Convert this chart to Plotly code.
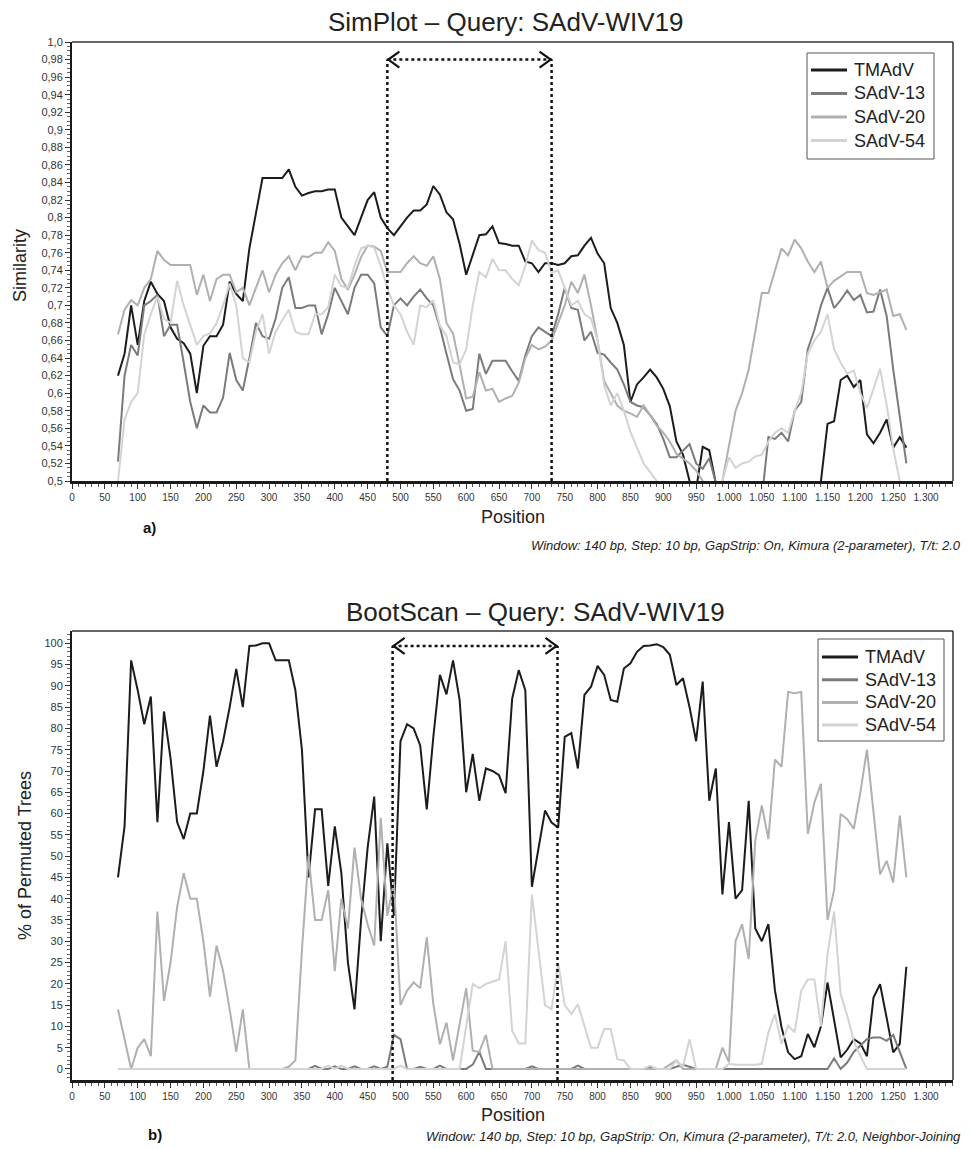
import plotly.graph_objects as go

# ---------------- data ----------------
positions = list(range(70, 1271, 10))  # 121 window mid-points

series_names = ["TMAdV", "SAdV-13", "SAdV-20", "SAdV-54"]
series_colors = ["#1c1c1c", "#7b7b7b", "#b0b0b0", "#d3d3d3"]

# SimPlot similarity values
sim_tmadv = [
    0.620, 0.645, 0.700, 0.655, 0.705, 0.727, 0.713, 0.705, 0.675, 0.662,
    0.657, 0.645, 0.600, 0.654, 0.665, 0.665, 0.678, 0.727, 0.713, 0.705,
    0.765, 0.805, 0.845, 0.845, 0.845, 0.845, 0.855, 0.835, 0.825, 0.828,
    0.830, 0.830, 0.832, 0.832, 0.800, 0.790, 0.780, 0.800, 0.820, 0.829,
    0.800, 0.788, 0.780, 0.790, 0.800, 0.808, 0.808, 0.815, 0.836, 0.826,
    0.806, 0.798, 0.770, 0.735, 0.757, 0.780, 0.781, 0.790, 0.771, 0.770,
    0.768, 0.768, 0.750, 0.748, 0.738, 0.748, 0.748, 0.746, 0.748, 0.756,
    0.757, 0.768, 0.777, 0.759, 0.748, 0.697, 0.680, 0.655, 0.590, 0.610,
    0.618, 0.627, 0.618, 0.605, 0.585, 0.545, 0.530, 0.500, 0.490, 0.539,
    0.535, 0.500, 0.460, 0.460, 0.460, 0.460, 0.460, 0.460, 0.460, 0.460,
    0.460, 0.460, 0.460, 0.460, 0.460, 0.460, 0.460, 0.500, 0.565, 0.568,
    0.615, 0.620, 0.607, 0.615, 0.553, 0.543, 0.555, 0.570, 0.538, 0.550,
    0.538,
]
sim_s13 = [
    0.522, 0.620, 0.655, 0.643, 0.700, 0.705, 0.712, 0.665, 0.678, 0.678,
    0.635, 0.590, 0.560, 0.586, 0.578, 0.578, 0.595, 0.646, 0.615, 0.603,
    0.640, 0.680, 0.665, 0.662, 0.685, 0.720, 0.732, 0.697, 0.697, 0.700,
    0.700, 0.667, 0.690, 0.720, 0.705, 0.690, 0.720, 0.735, 0.735, 0.725,
    0.675, 0.665, 0.700, 0.708, 0.700, 0.710, 0.718, 0.708, 0.700, 0.675,
    0.645, 0.616, 0.603, 0.580, 0.582, 0.645, 0.622, 0.637, 0.637, 0.637,
    0.625, 0.614, 0.643, 0.665, 0.675, 0.670, 0.665, 0.690, 0.720, 0.697,
    0.695, 0.660, 0.670, 0.646, 0.644, 0.635, 0.627, 0.610, 0.590, 0.586,
    0.584, 0.575, 0.565, 0.548, 0.527, 0.527, 0.535, 0.542, 0.520, 0.514,
    0.526, 0.500, 0.470, 0.470, 0.470, 0.470, 0.470, 0.470, 0.480, 0.550,
    0.548, 0.555, 0.545, 0.580, 0.590, 0.650, 0.672, 0.700, 0.720, 0.697,
    0.706, 0.717, 0.706, 0.712, 0.692, 0.693, 0.718, 0.688, 0.627, 0.575,
    0.520,
]
sim_s20 = [
    0.667, 0.695, 0.706, 0.700, 0.720, 0.730, 0.762, 0.752, 0.746, 0.746,
    0.746, 0.746, 0.712, 0.735, 0.705, 0.730, 0.735, 0.735, 0.715, 0.720,
    0.700, 0.720, 0.740, 0.715, 0.735, 0.748, 0.756, 0.740, 0.756, 0.755,
    0.760, 0.760, 0.772, 0.762, 0.730, 0.718, 0.735, 0.755, 0.768, 0.767,
    0.762, 0.738, 0.738, 0.738, 0.748, 0.756, 0.748, 0.745, 0.756, 0.730,
    0.680, 0.668, 0.632, 0.594, 0.596, 0.624, 0.603, 0.605, 0.590, 0.594,
    0.597, 0.612, 0.640, 0.655, 0.650, 0.653, 0.660, 0.680, 0.700, 0.727,
    0.714, 0.735, 0.700, 0.660, 0.614, 0.600, 0.586, 0.580, 0.577, 0.573,
    0.586, 0.575, 0.563, 0.555, 0.545, 0.531, 0.525, 0.520, 0.512, 0.500,
    0.480, 0.480, 0.500, 0.540, 0.580, 0.600, 0.627, 0.670, 0.714, 0.714,
    0.740, 0.765, 0.757, 0.775, 0.765, 0.750, 0.738, 0.750, 0.720, 0.728,
    0.733, 0.738, 0.738, 0.738, 0.714, 0.712, 0.715, 0.718, 0.688, 0.690,
    0.672,
]
sim_s54 = [
    0.500, 0.570, 0.590, 0.600, 0.667, 0.690, 0.710, 0.685, 0.680, 0.728,
    0.700, 0.678, 0.655, 0.665, 0.668, 0.680, 0.700, 0.725, 0.700, 0.640,
    0.635, 0.670, 0.690, 0.645, 0.670, 0.683, 0.695, 0.670, 0.667, 0.667,
    0.690, 0.690, 0.698, 0.735, 0.722, 0.720, 0.745, 0.765, 0.768, 0.766,
    0.745, 0.720, 0.700, 0.690, 0.670, 0.655, 0.700, 0.698, 0.706, 0.677,
    0.665, 0.635, 0.633, 0.650, 0.700, 0.738, 0.732, 0.753, 0.740, 0.740,
    0.730, 0.723, 0.745, 0.774, 0.763, 0.760, 0.737, 0.740, 0.720, 0.700,
    0.705, 0.690, 0.685, 0.660, 0.609, 0.586, 0.600, 0.580, 0.556, 0.537,
    0.520, 0.510, 0.500, 0.480, 0.470, 0.470, 0.470, 0.470, 0.470, 0.470,
    0.470, 0.480, 0.500, 0.527, 0.515, 0.520, 0.522, 0.528, 0.530, 0.545,
    0.555, 0.560, 0.555, 0.580, 0.600, 0.645, 0.660, 0.670, 0.690, 0.650,
    0.635, 0.622, 0.626, 0.600, 0.583, 0.605, 0.628, 0.587, 0.537, 0.500,
    0.470,
]

# BootScan % of permuted trees
boot_tmadv = [
    45, 57, 96, 89, 81, 87.5, 58, 84, 73, 58,
    54, 60, 60, 70, 83, 71, 77, 85, 94, 85,
    99.4, 99.5, 100, 100, 96, 96, 96, 89, 75, 45,
    61, 61, 43, 57, 46, 25, 14, 35, 52, 64,
    30, 53, 36, 77, 81, 80, 76, 61, 78, 92.6,
    88, 96, 86.7, 65, 74, 63, 70.6, 70, 69, 64.8,
    87, 93.7, 89, 42.8, 52, 60.7, 57.9, 56.7, 78, 78.9,
    70.6, 87.9, 89.8, 94.7, 92.6, 86.7, 86.3, 94.1, 95.3, 98,
    99.4, 99.5, 99.8, 99.1, 97.3, 90.2, 91.8, 85, 77, 91,
    63, 70.6, 41, 58, 40, 42, 63, 33, 30, 34,
    18.4, 9.8, 3.9, 2.3, 3, 8.2, 5.1, 10, 20.3, 11,
    2.7, 4.5, 7, 6, 3, 16.8, 19.9, 12, 3.9, 5.9,
    24,
]
boot_s13 = [
    0, 0, 0, 0, 0, 0, 0, 0, 0, 0,
    0, 0, 0, 0, 0, 0, 0, 0, 0, 0,
    0, 0, 0, 0, 0, 0, 0, 0, 0, 0,
    0.7, 0, 0, 0.6, 0, 0, 0.6, 0, 0, 0.6,
    0, 0.5, 8, 7, 0, 0, 0.5, 0, 0, 0.8,
    0, 0, 0, 0, 1, 4, 0, 0, 0, 0,
    0, 0, 0, 0.6, 0, 0, 0, 0, 0, 0,
    0.8, 0, 0, 0, 0, 0, 0, 0, 0, 0,
    0, 0.4, 0, 0, 0, 0.5, 1, 0.5, 0, 0,
    0, 0, 0, 0, 0, 0, 0, 0, 0, 0,
    0, 0, 0, 0, 0, 0, 0, 0, 0, 2.5,
    0, 1.5, 4, 5.5, 7, 7.4, 7.4, 6.6, 8, 4,
    0,
]
boot_s20 = [
    14, 7, 0, 5, 7, 3, 37, 16, 25, 38,
    46, 40, 40, 30, 17, 29, 23, 14, 4, 14,
    0, 0, 0, 0, 0, 0, 0.5, 2, 28, 50,
    35, 35, 42, 23, 40, 33, 52, 40, 34, 29,
    59, 36, 44, 15, 18.4, 20.3, 19, 30.9, 15.2, 5.8,
    10.9, 2, 10.5, 19, 4.3, 4, 8, 0, 0, 0,
    0, 0, 0, 0, 0, 0, 0, 0, 0, 0,
    0, 0, 0, 0, 0, 0, 0, 0, 0, 0,
    0, 0, 0, 0, 1, 2, 0, 0, 0, 0,
    0, 0, 5, 1.6, 30, 34, 25.8, 53.6, 61.9, 54,
    72.7, 71, 88.6, 88.3, 88.6, 55.2, 62.6, 67, 35, 42,
    59.9, 58.7, 56.4, 65, 75, 60, 45.7, 48.9, 43.8, 59.5,
    45,
]
boot_s54 = [
    0, 0, 0, 0, 0, 0, 0, 0, 0, 0,
    0, 0, 0, 0, 0, 0, 0, 0, 0, 0,
    0, 0, 0, 0, 0, 0, 0, 0, 0, 0,
    0, 0, 0.8, 0, 0.8, 0, 0, 0, 0, 0,
    0, 0, 0, 0.8, 0, 0, 0, 0, 0, 0,
    0, 0, 0, 10, 20, 19, 20, 20.5, 21, 30,
    9, 6, 6, 41, 28, 15, 14, 25, 15, 12.9,
    15.2, 9.8, 5, 5, 9.4, 9.4, 2.3, 2, 0, 0,
    0, 0.8, 0, 0, 0, 2, 0.5, 7, 0, 0,
    0, 0, 0, 1.2, 1, 1, 1, 1, 1.2, 8.6,
    12.9, 5.9, 10.2, 8.6, 18.4, 21, 21, 10, 27, 37,
    17.6, 12.5, 6.6, 3, 0, 0, 0, 0, 0, 0,
    0,
]

# recombination region marks (bp) and arrow heights
sim_region = (480, 730)
sim_arrow_level = 0.980
boot_region = (488, 739)
boot_arrow_level = 99.4

# axis tick definitions
sim_tickvals = [round(0.5 + 0.02 * i, 2) for i in range(26)]


def sim_label(v):
    if abs(v - 1.0) < 1e-9:
        return "1,0"
    s = f"{v:.2f}".rstrip("0")
    return s.replace(".", ",")


sim_ticktext = [sim_label(v) for v in sim_tickvals]

# ---------------- layout geometry (screen pixels) ----------------
W, H = 971, 1149
OFF = 8                      # page body margin in front of the figure
PLOT_L, PLOT_R = 72, 953      # horizontal extent of both panels (screen px)
TOP_T, TOP_B = 42, 481        # SimPlot panel
BOT_T, BOT_B = 631, 1080      # BootScan panel

M_L = PLOT_L - OFF
M_R = W - (PLOT_R - OFF)
M_T = TOP_T - OFF
M_B = H - (BOT_B - OFF)


def px_x(px):
    return (px - PLOT_L) / (PLOT_R - PLOT_L)


def px_y(py):
    return (BOT_B - py) / (BOT_B - TOP_T)


FONT = "Liberation Sans, Arial, Helvetica, sans-serif"
X_MAX = 1341
SIM_Y = (0.5, 1.0)
BOOT_Y = (-2.6, 102.9)

fig = go.Figure()

sim_data = [sim_tmadv, sim_s13, sim_s20, sim_s54]
boot_data = [boot_tmadv, boot_s13, boot_s20, boot_s54]

for name, color, vals in zip(series_names, series_colors, sim_data):
    fig.add_trace(go.Scatter(
        x=positions, y=vals, mode="lines", name=name,
        line=dict(color=color, width=2), xaxis="x", yaxis="y",
        showlegend=False, hoverinfo="x+y+name"))

for name, color, vals in zip(series_names, series_colors, boot_data):
    fig.add_trace(go.Scatter(
        x=positions, y=vals, mode="lines", name=name,
        line=dict(color=color, width=2), xaxis="x2", yaxis="y2",
        showlegend=False, hoverinfo="x+y+name"))

tick_font = dict(family=FONT, size=10, color="#333")

common_x = dict(
    range=[0, X_MAX], tickmode="linear", tick0=0, dtick=50,
    tickformat=",d", ticks="outside", ticklen=5, tickwidth=1,
    tickcolor="#333", showline=True, linecolor="#1a1a1a", linewidth=3,
    showgrid=False, zeroline=False, tickfont=tick_font, automargin=False,
    minor=dict(ticks="outside", ticklen=3, tickwidth=1, tickcolor="#555",
               tickmode="linear", tick0=0, dtick=10, showgrid=False),
)

fig.update_layout(
    width=W, height=H,
    margin=dict(l=M_L, r=M_R, t=M_T, b=M_B, autoexpand=False),
    paper_bgcolor="white", plot_bgcolor="white",
    separators=",.",
    font=dict(family=FONT, color="#222"),
    showlegend=False,
    xaxis=dict(domain=[0, 1], anchor="y", **common_x),
    xaxis2=dict(domain=[0, 1], anchor="y2", **common_x),
    yaxis=dict(
        domain=[px_y(TOP_B), 1.0], anchor="x", range=list(SIM_Y),
        tickmode="array", tickvals=sim_tickvals, ticktext=sim_ticktext,
        ticks="outside", ticklen=5, tickwidth=1, tickcolor="#333",
        showline=True, linecolor="#1a1a1a", linewidth=2,
        showgrid=False, zeroline=False, automargin=False,
        tickfont=dict(family=FONT, size=11, color="#333"),
        minor=dict(ticks="outside", ticklen=3, tickwidth=1, tickcolor="#666",
                   tickmode="linear", tick0=0.5, dtick=0.005, showgrid=False),
    ),
    yaxis2=dict(
        domain=[0, px_y(BOT_T)], anchor="x2", range=list(BOOT_Y),
        tickmode="linear", tick0=0, dtick=5,
        ticks="outside", ticklen=5, tickwidth=1, tickcolor="#333",
        showline=True, linecolor="#1a1a1a", linewidth=2,
        showgrid=False, zeroline=False, automargin=False,
        tickfont=dict(family=FONT, size=11, color="#333"),
        minor=dict(ticks="outside", ticklen=3, tickwidth=1, tickcolor="#666",
                   tickmode="linear", tick0=0, dtick=1, showgrid=False),
    ),
)

shapes = []
# top / right frame borders of both panels
for xr, yr in (("x domain", "y domain"), ("x2 domain", "y2 domain")):
    shapes.append(dict(type="line", xref=xr, yref=yr, x0=0, x1=1, y0=1, y1=1,
                       line=dict(color="#333", width=1.5), layer="above"))
    shapes.append(dict(type="line", xref=xr, yref=yr, x0=1, x1=1, y0=0, y1=1,
                       line=dict(color="#333", width=1.5), layer="above"))

dot_line = dict(color="#111", width=2.5, dash="dot")


def region_marks(xref, yref, region, level, ybottom):
    out = []
    x0, x1 = region
    for xv in region:
        out.append(dict(type="line", xref=xref, yref=yref, x0=xv, x1=xv,
                        y0=ybottom, y1=level, line=dot_line, layer="above"))
    out.append(dict(type="line", xref=xref, yref=yref, x0=x0, x1=x1,
                    y0=level, y1=level, line=dot_line, layer="above"))
    out.append(dict(type="path", xref=xref, yref=yref, xsizemode="pixel",
                    ysizemode="pixel", xanchor=x0, yanchor=level,
                    path="M 12 8 L 1 0 L 12 -8",
                    line=dict(color="#111", width=2.2), layer="above"))
    out.append(dict(type="path", xref=xref, yref=yref, xsizemode="pixel",
                    ysizemode="pixel", xanchor=x1, yanchor=level,
                    path="M -12 8 L -1 0 L -12 -8",
                    line=dict(color="#111", width=2.2), layer="above"))
    return out


shapes += region_marks("x", "y", sim_region, sim_arrow_level, SIM_Y[0])
shapes += region_marks("x2", "y2", boot_region, boot_arrow_level, BOOT_Y[0])

ann = []

# custom legends (box, line samples, labels) – geometry in screen pixels
legend_specs = [
    dict(l=807, r=934, t=53, b=159, y0=70, step=23.5, s0=811, s1=847, tx=852),
    dict(l=818, r=944, t=639, b=741, y0=657, step=22.7, s0=822, s1=858, tx=863),
]
for spec in legend_specs:
    shapes.append(dict(type="rect", xref="paper", yref="paper",
                       x0=px_x(spec["l"]), x1=px_x(spec["r"]),
                       y0=px_y(spec["b"]), y1=px_y(spec["t"]),
                       fillcolor="white", line=dict(color="#555", width=1),
                       layer="above"))
    for k, (name, color) in enumerate(zip(series_names, series_colors)):
        yc = spec["y0"] + k * spec["step"]
        shapes.append(dict(type="line", xref="paper", yref="paper",
                           x0=px_x(spec["s0"]), x1=px_x(spec["s1"]),
                           y0=px_y(yc), y1=px_y(yc),
                           line=dict(color=color, width=3), layer="above"))
        ann.append(dict(text=name, xref="paper", yref="paper",
                        x=px_x(spec["tx"]), y=px_y(yc),
                        xanchor="left", yanchor="middle", showarrow=False,
                        font=dict(family=FONT, size=18, color="#222")))

fig.update_layout(shapes=shapes)

italic_font = dict(family=FONT, size=13, color="#222", style="italic")

# panel titles
ann.append(dict(text="SimPlot – Query: SAdV-WIV19", xref="paper", yref="paper",
                x=px_x(505), y=px_y(22), xanchor="center", yanchor="middle",
                showarrow=False, font=dict(family=FONT, size=26, color="#222")))
ann.append(dict(text="BootScan – Query: SAdV-WIV19", xref="paper", yref="paper",
                x=px_x(535), y=px_y(612), xanchor="center", yanchor="middle",
                showarrow=False, font=dict(family=FONT, size=26, color="#222")))
# x axis titles
for py in (517, 1115):
    ann.append(dict(text="Position", xref="paper", yref="paper", x=0.5, y=px_y(py),
                    xanchor="center", yanchor="middle", showarrow=False,
                    font=dict(family=FONT, size=18, color="#222")))
# y axis titles
ann.append(dict(text="Similarity", xref="paper", yref="paper", x=px_x(20),
                y=px_y(266), xanchor="center", yanchor="middle",
                textangle=-90, showarrow=False,
                font=dict(family=FONT, size=18, color="#222")))
ann.append(dict(text="% of Permuted Trees", xref="paper", yref="paper", x=px_x(25),
                y=px_y(856), xanchor="center", yanchor="middle",
                textangle=-90, showarrow=False,
                font=dict(family=FONT, size=18, color="#222")))
# panel letters
ann.append(dict(text="<b>a)</b>", xref="paper", yref="paper", x=px_x(149),
                y=px_y(527), xanchor="center", yanchor="middle", showarrow=False,
                font=dict(family=FONT, size=15, color="#111")))
ann.append(dict(text="<b>b)</b>", xref="paper", yref="paper", x=px_x(155),
                y=px_y(1134), xanchor="center", yanchor="middle", showarrow=False,
                font=dict(family=FONT, size=15, color="#111")))
# method notes
ann.append(dict(text="Window: 140 bp, Step: 10 bp, GapStrip: On, Kimura (2-parameter), T/t: 2.0",
                xref="paper", yref="paper", x=px_x(963), y=px_y(545),
                xanchor="right", yanchor="middle", showarrow=False,
                font=italic_font))
ann.append(dict(text="Window: 140 bp, Step: 10 bp, GapStrip: On, Kimura (2-parameter), T/t: 2.0, Neighbor-Joining",
                xref="paper", yref="paper", x=px_x(963), y=px_y(1136),
                xanchor="right", yanchor="middle", showarrow=False,
                font=italic_font))
fig.update_layout(annotations=ann)

fig.write_html("out.html")
